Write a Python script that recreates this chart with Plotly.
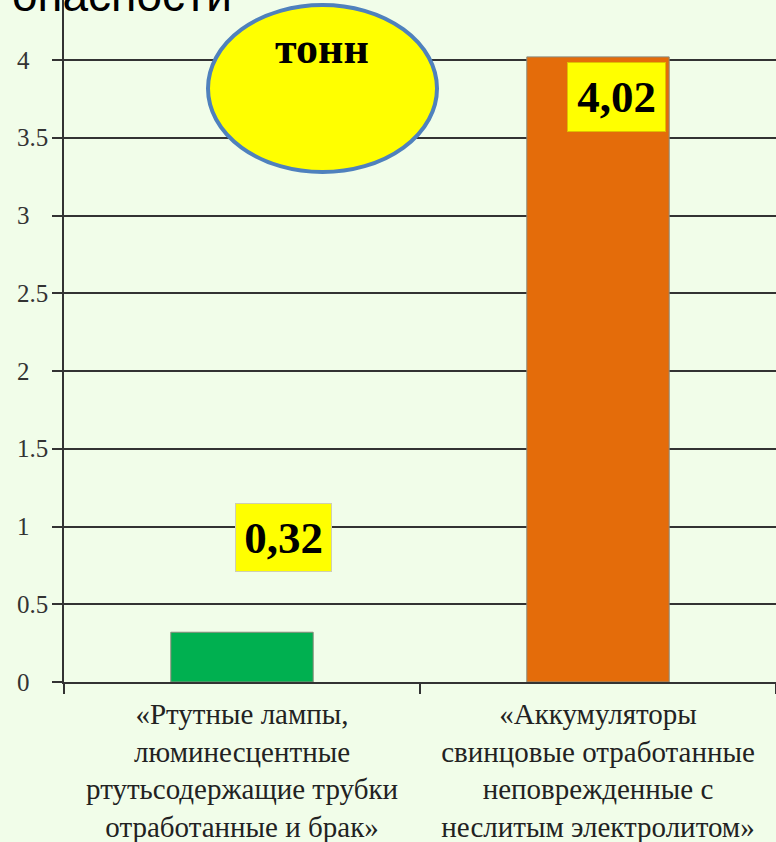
import plotly.graph_objects as go

# Data
categories = [
    "«Ртутные лампы,<br>люминесцентные<br>ртутьсодержащие трубки<br>отработанные и брак»",
    "«Аккумуляторы<br>свинцовые отработанные<br>неповрежденные с<br>неслитым электролитом»",
]
values = [0.32, 4.02]
value_labels = ["0,32", "4,02"]
bar_colors = ["#00B050", "#E46C0A"]
y_ticks = [0, 0.5, 1, 1.5, 2, 2.5, 3, 3.5, 4]
y_tick_text = ["0", "0.5", "1", "1.5", "2", "2.5", "3", "3.5", "4"]

BG = "#F1FDE9"
SERIF = "Liberation Serif"

fig = go.Figure(go.Bar(
    x=categories, y=values,
    marker=dict(color=bar_colors, line=dict(color="#8a8a7a", width=1)),
    width=0.4,
    hoverinfo="skip",
))

# value labels in yellow boxes
fig.add_annotation(x=categories[0], y=values[0], yanchor="bottom", xshift=41, yshift=60,
                   text="<b>" + value_labels[0] + "</b>", showarrow=False,
                   font=dict(family=SERIF, size=45, color="black"),
                   bgcolor="#FFFF00", bordercolor="#cfcfb0", borderwidth=1,
                   width=93, height=65, borderpad=1)
fig.add_annotation(x=categories[1], y=values[1], yanchor="top", xshift=18, yshift=-5,
                   text="<b>" + value_labels[1] + "</b>", showarrow=False,
                   font=dict(family=SERIF, size=45, color="black"),
                   bgcolor="#FFFF00", bordercolor="#e0c000", borderwidth=1,
                   width=95, height=66, borderpad=1)

# "тонн" ellipse
fig.add_shape(type="circle", xref="paper", yref="paper",
              x0=(208 - 64) / 712, x1=(437 - 64) / 712,
              y0=1 - 172 / 682, y1=1 - 5 / 682,
              fillcolor="#FFFF00", line=dict(color="#4F81BD", width=4), layer="above")
fig.add_annotation(xref="paper", yref="paper", x=(322 - 64) / 712, y=1 - 48 / 682,
                   xanchor="center", yanchor="middle", text="<b>тонн</b>", showarrow=False,
                   font=dict(family=SERIF, size=44, color="black"))

# title fragment cut off at the top
fig.add_annotation(xref="paper", yref="paper", x=(122 - 64) / 712, y=1, yanchor="middle",
                   xanchor="center", yshift=5, text="опасности", showarrow=False,
                   font=dict(family="Liberation Sans", size=46, color="black"))

# y tick labels, left aligned like the original
for v, t in zip(y_ticks, y_tick_text):
    fig.add_annotation(xref="paper", yref="y", x=(15 - 64) / 712, y=v, xanchor="left",
                       text=t, showarrow=False,
                       font=dict(family=SERIF, size=25, color="#333"))

fig.update_layout(
    width=776, height=842,
    margin=dict(l=64, r=0, t=0, b=160),
    paper_bgcolor=BG, plot_bgcolor=BG,
    showlegend=False,
)
fig.update_xaxes(
    type="category", tickson="boundaries", ticks="outside", ticklen=10,
    tickcolor="#333", tickwidth=2,
    showline=True, linecolor="#333", linewidth=2,
    tickfont=dict(family=SERIF, size=29, color="#222"),
    ticklabelstandoff=5, automargin=False,
    showgrid=False,
)
fig.update_yaxes(
    range=[0, 682 / 155.5], tickvals=y_ticks, showticklabels=False,
    ticks="outside", ticklen=10, tickcolor="#333", tickwidth=2,
    showline=True, linecolor="#333", linewidth=2,
    showgrid=True, gridcolor="#333", gridwidth=2,
    zeroline=False, automargin=False,
)

fig.write_html("out.html", config={"displayModeBar": False},
               post_script="document.body.style.margin='0';")
